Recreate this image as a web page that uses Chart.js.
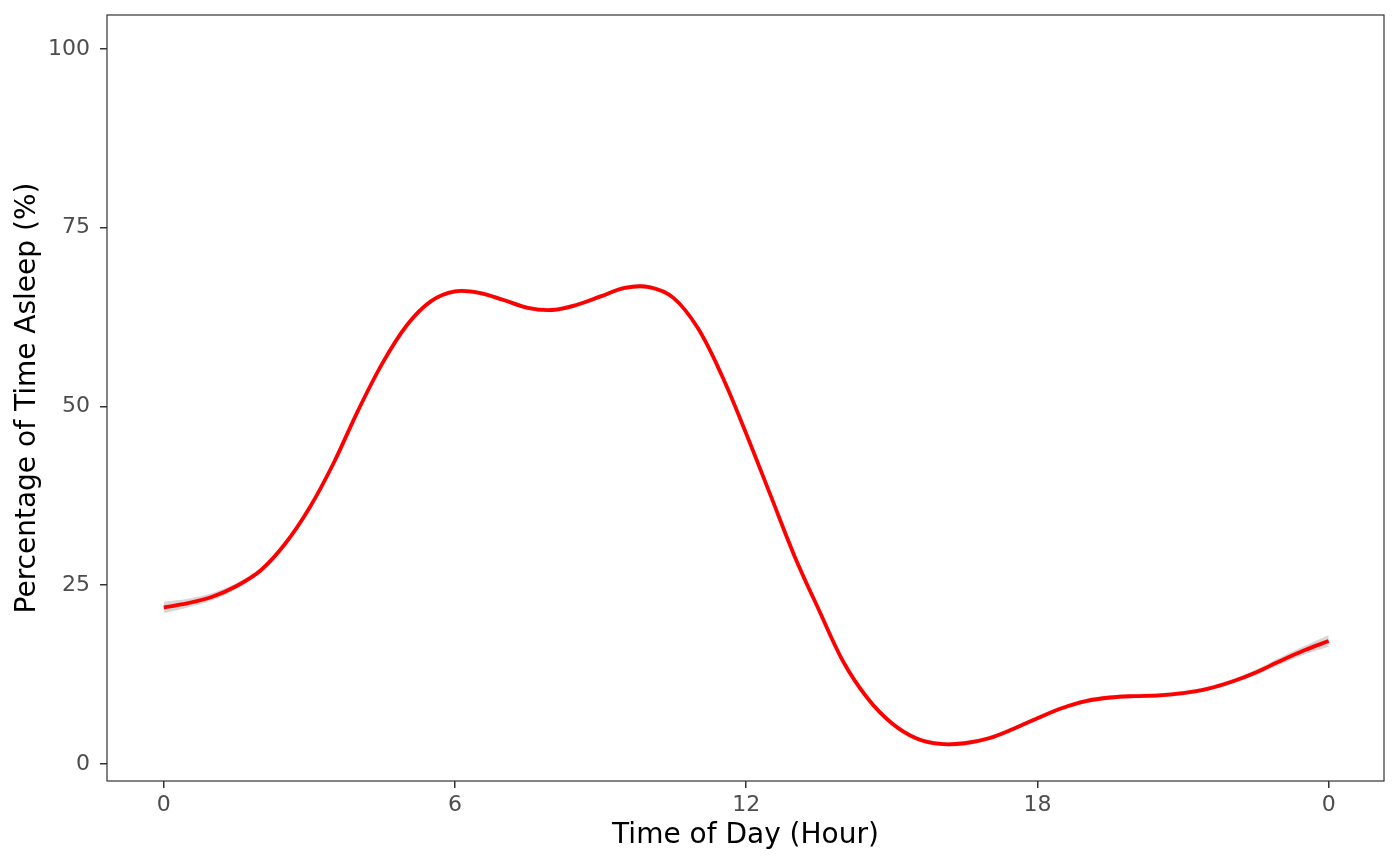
<!DOCTYPE html>
<html>
<head>
<meta charset="utf-8">
<script src="https://cdn.jsdelivr.net/npm/chart.js@4"></script>
<style>
  html, body { margin: 0; padding: 0; background: #fff; }
</style>
</head>
<body>
<canvas id="sleepChart" width="1400" height="866"></canvas>
<script>
const hours = [0, 0.5, 1, 1.5, 2, 2.5, 3, 3.5, 4, 4.5, 5, 5.5, 6, 6.5, 7, 7.5, 8, 8.5, 9, 9.5,
  10, 10.5, 11, 11.5, 12, 12.5, 13, 13.5, 14, 14.5, 15, 15.5, 16, 16.5, 17, 17.5, 18, 18.5, 19, 19.5,
  20, 20.5, 21, 21.5, 22, 22.5, 23, 23.5, 24];
const pctAsleep = [21.9, 22.5, 23.4, 24.9, 27.1, 30.8, 35.8, 42.1, 49.4, 56.0, 61.3, 64.7, 66.1, 65.9, 64.9, 63.8, 63.5, 64.2, 65.4, 66.6,
  66.7, 65.2, 61.0, 54.3, 46.2, 37.6, 29.0, 21.5, 14.3, 9.2, 5.7, 3.6, 2.8, 2.9, 3.6, 4.9, 6.4, 7.8, 8.8, 9.3,
  9.5, 9.6, 9.9, 10.5, 11.5, 12.8, 14.4, 15.9, 17.2];
const ciLower = [21.1, 21.9, 22.9, 24.5, 26.8, 30.5, 35.5, 41.8, 49.1, 55.7, 61.0, 64.4, 65.8, 65.6, 64.6, 63.5, 63.2, 63.9, 65.1, 66.3,
  66.4, 64.9, 60.7, 54.0, 45.9, 37.3, 28.7, 21.2, 14.0, 8.9, 5.4, 3.3, 2.5, 2.6, 3.3, 4.6, 6.1, 7.5, 8.5, 9.0,
  9.2, 9.3, 9.6, 10.2, 11.2, 12.4, 13.9, 15.3, 16.4];
const ciUpper = [22.7, 23.1, 23.9, 25.3, 27.4, 31.1, 36.1, 42.4, 49.7, 56.3, 61.6, 65.0, 66.4, 66.2, 65.2, 64.1, 63.8, 64.5, 65.7, 66.9,
  67.0, 65.5, 61.3, 54.6, 46.5, 37.9, 29.3, 21.8, 14.6, 9.5, 6.0, 3.9, 3.1, 3.2, 3.9, 5.2, 6.7, 8.1, 9.1, 9.6,
  9.8, 9.9, 10.2, 10.8, 11.8, 13.2, 14.9, 16.5, 18.0];
const xTicks = [0, 6, 12, 18, 24];
const yTicks = [0, 25, 50, 75, 100];

const toPoints = (ys) => hours.map((h, i) => ({ x: h, y: ys[i] }));

const fontFamily = '"DejaVu Sans", sans-serif';

// panel border like theme_bw
const panelBorder = {
  id: 'panelBorder',
  afterDraw(chart) {
    const { ctx, chartArea: a } = chart;
    ctx.save();
    ctx.strokeStyle = '#333333';
    ctx.lineWidth = 1.2;
    ctx.strokeRect(a.left, a.top, a.right - a.left, a.bottom - a.top);
    ctx.restore();
  }
};

const ctx = document.getElementById('sleepChart').getContext('2d');
const sleepChart = new Chart(ctx, {
  type: 'line',
  data: {
    datasets: [
      {
        label: 'Percentage of Time Asleep',
        data: toPoints(pctAsleep),
        borderColor: '#ff0000',
        borderWidth: 3.8,
        pointRadius: 0,
        fill: false,
        tension: 0.35,
        order: 0
      },
      {
        label: 'lower',
        data: toPoints(ciLower),
        borderWidth: 0,
        pointRadius: 0,
        fill: false,
        tension: 0.35,
        order: 1
      },
      {
        label: 'upper',
        data: toPoints(ciUpper),
        borderWidth: 0,
        pointRadius: 0,
        backgroundColor: 'rgba(153, 153, 153, 0.4)',
        fill: '-1',
        tension: 0.35,
        order: 2
      }
    ]
  },
  options: {
    responsive: false,
    animation: false,
    devicePixelRatio: 1,
    layout: { padding: { top: 15, right: 16, left: 0, bottom: 0 } },
    plugins: {
      legend: { display: false },
      tooltip: { enabled: false }
    },
    scales: {
      x: {
        type: 'linear',
        min: -1.17,
        max: 25.14,
        afterBuildTicks: (scale) => { scale.ticks = xTicks.map(v => ({ value: v })); },
        afterFit: (scale) => {
          scale.height = 85;
          scale.paddingLeft = 0;
          scale.paddingRight = 0;
        },
        ticks: {
          callback: (v) => (v === 24 ? '0' : String(v)),
          color: '#4d4d4d',
          font: { family: fontFamily, size: 22 },
          padding: 4,
          maxRotation: 0
        },
        grid: { drawOnChartArea: false, drawTicks: true, tickLength: 7, color: '#333333', lineWidth: 1.5 },
        border: { display: false },
        title: {
          display: true,
          text: 'Time of Day (Hour)',
          color: '#000000',
          font: { family: fontFamily, size: 28 },
          padding: { top: 0, bottom: 13 }
        }
      },
      y: {
        min: -2.38,
        max: 104.76,
        afterBuildTicks: (scale) => { scale.ticks = yTicks.map(v => ({ value: v })); },
        afterFit: (scale) => {
          scale.width = 107;
          scale.paddingTop = 0;
          scale.paddingBottom = 0;
        },
        ticks: {
          color: '#4d4d4d',
          font: { family: fontFamily, size: 22 },
          padding: 10
        },
        grid: { drawOnChartArea: false, drawTicks: true, tickLength: 7, color: '#333333', lineWidth: 1.5 },
        border: { display: false },
        title: {
          display: true,
          text: 'Percentage of Time Asleep (%)',
          color: '#000000',
          font: { family: fontFamily, size: 28 },
          padding: { top: 11, bottom: 0 }
        }
      }
    }
  },
  plugins: [panelBorder]
});
</script>
</body>
</html>
